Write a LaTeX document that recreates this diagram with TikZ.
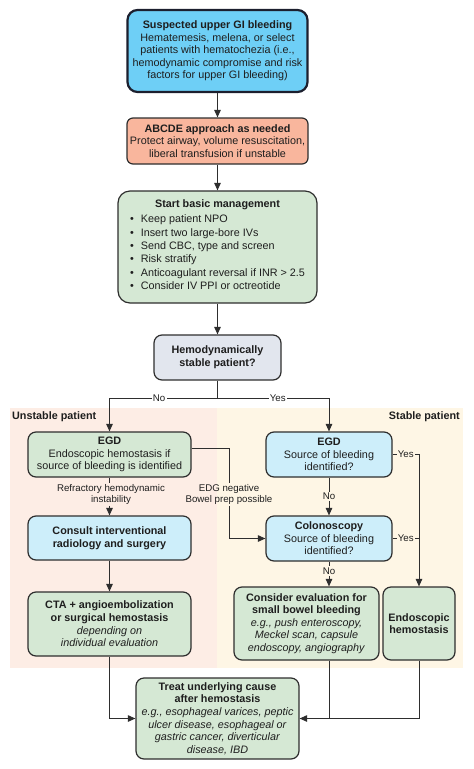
\documentclass[tikz,border=0pt]{standalone}
\usepackage{fontspec}
\setmainfont{Liberation Sans}
\usetikzlibrary{arrows.meta,calc}
\definecolor{cSky}{HTML}{6ECFF6}
\definecolor{cSalmon}{HTML}{F9B69D}
\definecolor{cGreen}{HTML}{D5E8D4}
\definecolor{cLBlue}{HTML}{CDEEFA}
\definecolor{cGrey}{HTML}{E2E6EE}
\definecolor{cUnst}{HTML}{FDEDE5}
\definecolor{cStab}{HTML}{FEF6E5}
\definecolor{cLine}{HTML}{2E2E2E}
\definecolor{cNavy}{HTML}{1C1F2E}
\definecolor{cText}{HTML}{1E1E1E}
\begin{document}
\begin{tikzpicture}[x=1pt,y=-1pt,
  box/.style={draw=cLine, line width=1.2pt, rounded corners=8pt, align=center, inner sep=2pt,
    text=cText, font=\fontsize{10.8}{12.6}\selectfont},
  lbl/.style={font=\fontsize{9.7}{11}\selectfont, align=center, text=cText, inner sep=1.2pt},
  hdr/.style={font=\fontsize{10.8}{12.6}\selectfont\bfseries, text=cText, inner sep=0pt},
  arr/.style={-{Triangle[length=7.5pt,width=6.5pt]}, line width=1pt, draw=cLine},
  ln/.style={line width=1pt, draw=cLine}]
\useasboundingbox (0,0) rectangle (474,769);
% regions
\fill[cUnst] (10,408) rectangle (217,668);
\fill[cStab] (217,408) rectangle (463,668);
\node[hdr, anchor=west] (hU) at (12,417) {Unstable patient};
\node[hdr, anchor=east] (hS) at (460,417) {Stable patient};
% boxes
\node[box, fill=cSky, draw=cNavy, line width=2.2pt, rounded corners=10pt, minimum width=180pt, minimum height=82pt] (b1) at (217.5,51)
  {\textbf{Suspected upper GI bleeding}\\Hematemesis, melena, or select\\patients with hematochezia (i.e.,\\hemodynamic compromise and risk\\factors for upper GI bleeding)};
\node[box, fill=cSalmon, minimum width=181pt, minimum height=46pt, rounded corners=6pt] (b2) at (217.5,141)
  {\textbf{ABCDE approach as needed}\\Protect airway, volume resuscitation,\\liberal transfusion if unstable};
\node[box, fill=cGreen, minimum width=199pt, minimum height=112pt, rounded corners=12pt] (b3) at (217.5,247)
  {\textbf{Start basic management}\\[2pt]
   {\def\arraystretch{1.07}\begin{tabular}{@{}l@{\hspace{7pt}}l@{}}
   \textbullet & Keep patient NPO\\
   \textbullet & Insert two large-bore IVs\\
   \textbullet & Send CBC, type and screen\\
   \textbullet & Risk stratify\\
   \textbullet & Anticoagulant reversal if INR > 2.5\\
   \textbullet & Consider IV PPI or octreotide
   \end{tabular}}};
\node[box, fill=cGrey, minimum width=127pt, minimum height=45pt] (b4) at (217.5,357.5)
  {\textbf{Hemodynamically}\\\textbf{stable patient?}};
\node[box, fill=cGreen, minimum width=163pt, minimum height=45pt] (egdL) at (109.5,454.5)
  {\textbf{EGD}\\Endoscopic hemostasis if\\source of bleeding is identified};
\node[box, fill=cLBlue, minimum width=126pt, minimum height=45pt] (egdR) at (329,454.5)
  {\textbf{EGD}\\Source of bleeding\\identified?};
\node[box, fill=cLBlue, minimum width=163pt, minimum height=44pt] (cons) at (109.5,538)
  {\textbf{Consult interventional}\\\textbf{radiology and surgery}};
\node[box, fill=cLBlue, minimum width=126pt, minimum height=45pt] (colon) at (329,538.5)
  {\textbf{Colonoscopy}\\Source of bleeding\\identified?};
\node[box, fill=cGreen, minimum width=163pt, minimum height=64pt] (cta) at (109.5,624)
  {\textbf{CTA + angioembolization}\\\textbf{or surgical hemostasis}\\\textit{depending on}\\\textit{individual evaluation}};
\node[box, fill=cGreen, minimum width=145pt, minimum height=73pt] (cnsd) at (306.5,623.5)
  {\textbf{Consider evaluation for}\\\textbf{small bowel bleeding}\\\textit{e.g., push enteroscopy,}\\\textit{Meckel scan, capsule}\\\textit{endoscopy, angiography}};
\node[box, fill=cGreen, minimum width=72pt, minimum height=73pt] (endo) at (419,623.5)
  {\textbf{Endoscopic}\\\textbf{hemostasis}};
\node[box, fill=cGreen, minimum width=163pt, minimum height=81pt] (treat) at (217.5,718.5)
  {\textbf{Treat underlying cause}\\\textbf{after hemostasis}\\\textit{e.g., esophageal varices, peptic}\\\textit{ulcer disease, esophageal or}\\\textit{gastric cancer, diverticular}\\\textit{disease, IBD}};
% labels on split paths
\node[lbl] (lR) at (111,494.5) {Refractory hemodynamic\\instability};
\node[lbl] (lE) at (229,494.5) {EDG negative\\Bowel prep possible};
% connectors
\draw[arr] (b1) -- (b2);
\draw[arr] (b2) -- (b3);
\draw[arr] (b3) -- (b4);
\coordinate (split) at (217.5,398);
\draw[ln] (b4.south) -- (split);
\draw[arr] (split) -| node[lbl, fill=white, pos=0.27] {No} (egdL.north);
\draw[arr] (split) -| node[lbl, fill=white, pos=0.27] {Yes} (egdR.north);
\draw[ln] (egdL.south) -- (egdL.south |- lR.north);
\draw[arr] (egdL.south |- lR.south) -- (cons.north);
\draw[arr] (cons) -- (cta);
\draw[ln] ([yshift=6.5pt]egdL.east) -| (lE.north);
\draw[arr] (lE.south) |- (colon.west);
\draw[arr] (egdR) -- node[lbl, fill=cStab] {No} (colon);
\draw[arr] (colon.south) -- node[lbl, fill=cStab, pos=0.38] {No} (colon.south |- cnsd.north);
\draw[arr] (egdR.east) -- node[lbl, fill=cStab] {Yes} (endo.north |- egdR.east) -- (endo.north);
\draw[ln] (colon.east) -- node[lbl, fill=cStab] {Yes} (endo.north |- colon.east);
\draw[arr] (cta.south) |- (treat.west);
\draw[arr] (endo.south) |- (treat.east);
\draw[ln] (colon.south |- cnsd.south) -- (colon.south |- treat.east);
\end{tikzpicture}
\end{document}
